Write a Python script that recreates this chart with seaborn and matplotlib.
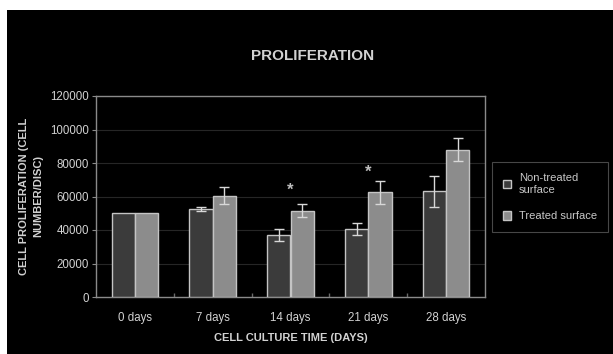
import matplotlib
matplotlib.use("Agg")
import matplotlib.pyplot as plt
import seaborn as sns
import pandas as pd
import numpy as np
from matplotlib.patches import Rectangle, Patch

categories = ["0 days", "7 days", "14 days", "21 days", "28 days"]
series_names = ["Non-treated\nsurface", "Treated surface"]
non_treated = [50000, 52500, 37000, 40500, 63000]
non_treated_err = [0, 1200, 3500, 3500, 9500]
treated = [50000, 60500, 51500, 62500, 88000]
treated_err = [0, 5000, 4000, 7000, 7000]
star_categories = ["14 days", "21 days"]
star_heights = [63500, 74500]
yticks = [0, 20000, 40000, 60000, 80000, 100000, 120000]
ylabel_lines = ["CELL PROLIFERATION (CELL", "NUMBER/DISC)"]

sns.set_theme(style="dark")
plt.rcParams["font.family"] = ["Liberation Sans", "DejaVu Sans"]

txt = "#d2d2d2"
dark_bar = "#3b3b3b"
light_bar = "#8c8c8c"
edge = "#c4c4c4"

df = pd.DataFrame({
    "time": categories * 2,
    "value": non_treated + treated,
    "err": non_treated_err + treated_err,
    "series": [series_names[0]] * len(categories) + [series_names[1]] * len(categories),
})

fig = plt.figure(figsize=(6.13, 3.54), dpi=100)
fig.patch.set_facecolor("white")
fig.patches.append(Rectangle((7 / 613, 0), 1, 1 - 10 / 354, transform=fig.transFigure,
                             facecolor="black", edgecolor="none", zorder=-5))
ax = fig.add_axes([96 / 613, 1 - 297 / 354, (485 - 96) / 613, (297 - 96) / 354])
ax.set_facecolor("black")

sns.barplot(data=df, x="time", y="value", hue="series", order=categories,
            hue_order=series_names, palette=[dark_bar, light_bar], errorbar=None,
            width=0.6, gap=0, edgecolor=edge, linewidth=1.0, ax=ax, legend=False, zorder=3)

# error bars from bar centres
containers = ax.containers
for cont, vals, errs in zip(containers, [non_treated, treated], [non_treated_err, treated_err]):
    xs = [p.get_x() + p.get_width() / 2 for p in cont.patches]
    xe = [x for x, e in zip(xs, errs) if e > 0]
    ye = [v for v, e in zip(vals, errs) if e > 0]
    ee = [e for e in errs if e > 0]
    ax.errorbar(xe, ye, yerr=ee, fmt="none", ecolor="#d8d8d8", elinewidth=1.0,
                capsize=3.5, capthick=1.0, zorder=5)

for cat, h in zip(star_categories, star_heights):
    ax.text(categories.index(cat), h, "*", color="#bdbdbd", ha="center", va="center",
            fontsize=12, fontweight="bold")

ax.set_xlim(-0.5, len(categories) - 0.5)
ax.set_ylim(0, 120000)
ax.set_yticks(yticks)
ax.set_yticklabels([str(t) for t in yticks])
ax.grid(axis="y", color="#262626", linewidth=0.8, zorder=0)
ax.grid(axis="x", visible=False)
ax.set_axisbelow(True)
for s in ax.spines.values():
    s.set_visible(True)
    s.set_color("#8a8a8a")
    s.set_linewidth(1.0)

ax.tick_params(axis="y", colors=txt, labelsize=8.3, length=3, width=0.8, left=True, color="#8a8a8a", pad=2)
ax.tick_params(axis="x", colors=txt, labelsize=8.3, length=0, pad=11)
ax.set_xticks(np.arange(0.5, len(categories) - 0.5), minor=True)
ax.tick_params(axis="x", which="minor", direction="in", length=3, color="#6a6a6a", bottom=True)

ax.set_xlabel("CELL CULTURE TIME (DAYS)", color=txt, fontsize=8, fontweight="bold", labelpad=6)
ax.set_ylabel("")
# y-axis title: two rotated lines, each centred on the axes' vertical middle
for xpix, line in zip([24, 38], ylabel_lines):
    fig.text(xpix / 613, 1 - 196 / 354, line, color=txt, fontsize=8, fontweight="bold",
             rotation=90, ha="center", va="center")
fig.text(313 / 613, 1 - 56 / 354, "PROLIFERATION", color=txt, fontsize=11,
         fontweight="bold", ha="center", va="center")

handles = [Patch(facecolor=dark_bar, edgecolor=edge, linewidth=1.0),
           Patch(facecolor=light_bar, edgecolor=edge, linewidth=1.0)]
leg = fig.legend(handles, series_names, loc="upper left",
                 bbox_to_anchor=(492 / 613, 1 - 162 / 354), borderaxespad=0,
                 frameon=True, prop={"size": 8},
                 handlelength=0.75, handleheight=0.75, handletextpad=0.7, labelspacing=1.5,
                 borderpad=1.0, fancybox=False)
leg.get_frame().set_facecolor("black")
leg.get_frame().set_edgecolor("#5a5a5a")
leg.get_frame().set_linewidth(0.8)
for t in leg.get_texts():
    t.set_color("#c8c8c8")

fig.savefig("out.png", dpi=100, facecolor=fig.get_facecolor())
